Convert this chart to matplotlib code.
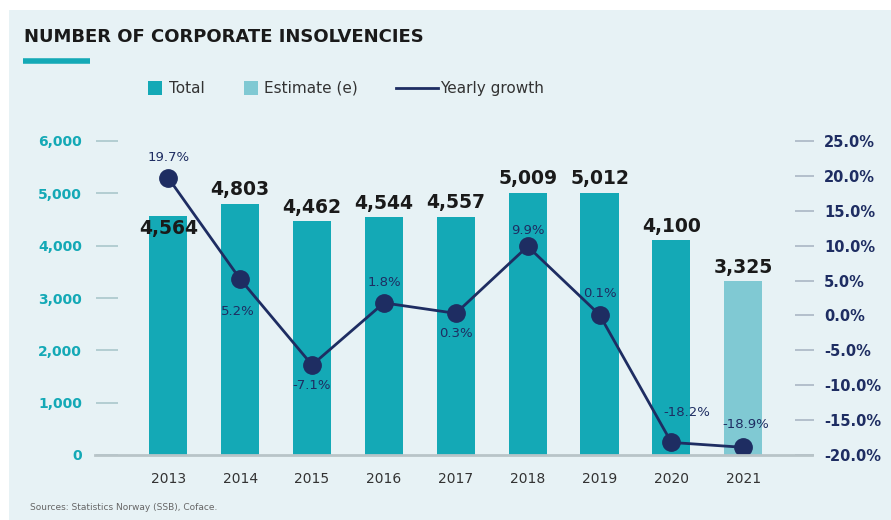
import matplotlib.pyplot as plt
from matplotlib.patches import Rectangle
from matplotlib.lines import Line2D

years = ["2013", "2014", "2015", "2016", "2017", "2018", "2019", "2020", "2021"]
insolvencies = [4564, 4803, 4462, 4544, 4557, 5009, 5012, 4100, 3325]
is_estimate = [False, False, False, False, False, False, False, False, True]
growth = [19.7, 5.2, -7.1, 1.8, 0.3, 9.9, 0.1, -18.2, -18.9]

left_ticks = [0, 1000, 2000, 3000, 4000, 5000, 6000]
right_ticks = [-20, -15, -10, -5, 0, 5, 10, 15, 20, 25]

# label offsets from each growth dot, in pixels (dx, dy)
growth_label_offsets = [(0, 20), (-2, -32), (0, -21), (0, 20), (0, -20),
                        (0, 16), (0, 21), (15, 30), (2, 23)]

TEAL = "#14a9b6"
TEAL_LIGHT = "#80c9d3"
NAVY = "#1e2d62"
BG = "#e7f2f5"

fig = plt.figure(figsize=(8.91, 5.2), dpi=100)
fig.patch.set_facecolor("white")
fig.patches.append(Rectangle((9 / 891, 0), 1, 1 - 10 / 520, transform=fig.transFigure,
                             facecolor=BG, edgecolor="none", zorder=-10))

# axes box: x 118..795 px, y 141..455 px
ax = fig.add_axes([118 / 891, 65 / 520, 677 / 891, 314 / 520])
ax.set_facecolor("none")
ax2 = ax.twinx()

x = list(range(len(years)))
colors = [TEAL_LIGHT if e else TEAL for e in is_estimate]
ax.bar(x, insolvencies, width=0.53, color=colors, zorder=2)
ax.set_ylim(0, 6000)
ax.set_xlim(-0.7, 8.72)

for i, v in enumerate(insolvencies):
    off = -9 if i == 0 else 10
    ax.annotate(f"{v:,}", (i, v), xytext=(0, off), textcoords="offset points",
                ha="center", va="center", fontsize=13.5, fontweight="bold",
                color="#1a1a1a", zorder=5)

ax2.plot(x, growth, color=NAVY, lw=2, marker="o", markersize=12.5, zorder=4)
ax2.set_ylim(-20, 25)
for i, g in enumerate(growth):
    dx, dy = growth_label_offsets[i]
    ax2.annotate(f"{g:.1f}%", (i, g), xytext=(dx * 0.72, dy * 0.72), textcoords="offset points",
                 ha="center", va="center", fontsize=9.5, color=NAVY)

# axis styling
for a in (ax, ax2):
    for s in a.spines.values():
        s.set_visible(False)

ax.set_yticks(left_ticks)
ax.set_yticklabels([f"{t:,}" for t in left_ticks], color=TEAL, fontsize=10, fontweight="bold")
ax.tick_params(axis="y", length=16, width=1.2, color="#aac7cc", pad=10)
ax.set_xticks(x)
ax.set_xticklabels(years, fontsize=10, color="#333333")
ax.tick_params(axis="x", length=0, pad=12)

ax2.set_yticks(right_ticks)
ax2.set_yticklabels([f"{t:.1f}%" for t in right_ticks], color=NAVY, fontsize=10.5, fontweight="bold")
ax2.tick_params(axis="y", length=14, width=1.2, color="#aab6c4", pad=7)

# baseline
fig.add_artist(Line2D([95 / 891, 812 / 891], [65 / 520, 65 / 520], color="#b8c4c8",
                      lw=2, zorder=1))

# title and underline
fig.text(24 / 891, 1 - 37 / 520, "NUMBER OF CORPORATE INSOLVENCIES", fontsize=13,
         fontweight="bold", color="#1a1a1a", va="center", ha="left")
fig.add_artist(Line2D([23 / 891, 90 / 891], [1 - 61 / 520, 1 - 61 / 520], color=TEAL,
                      lw=4, solid_capstyle="butt"))

# legend
ly = 1 - 88 / 520
fig.patches.append(Rectangle((148 / 891, ly - 7 / 520), 14 / 891, 14 / 520,
                             transform=fig.transFigure, facecolor=TEAL, edgecolor="none"))
fig.text(169 / 891, ly, "Total", fontsize=11, color="#333333", va="center")
fig.patches.append(Rectangle((244 / 891, ly - 7 / 520), 14 / 891, 14 / 520,
                             transform=fig.transFigure, facecolor=TEAL_LIGHT, edgecolor="none"))
fig.text(264 / 891, ly, "Estimate (e)", fontsize=11, color="#333333", va="center")
fig.add_artist(Line2D([396 / 891, 438 / 891], [ly, ly], color=NAVY, lw=2))
fig.text(440 / 891, ly, "Yearly growth", fontsize=11, color="#333333", va="center")

fig.text(30 / 891, 1 - 508 / 520, "Sources: Statistics Norway (SSB), Coface.", fontsize=6.5,
         color="#666666", va="center")

fig.savefig("out.png", dpi=100, facecolor=fig.get_facecolor())
